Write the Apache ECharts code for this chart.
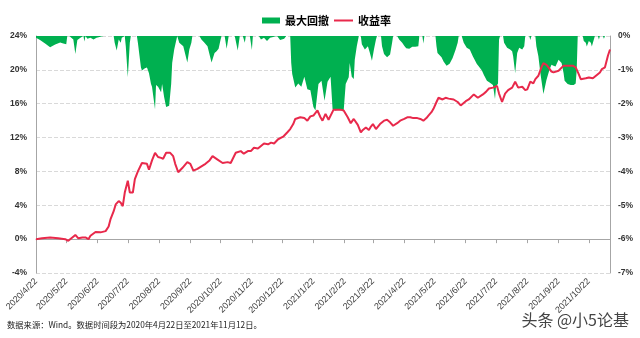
<!DOCTYPE html>
<html>
<head>
<meta charset="utf-8">
<script src="https://cdn.jsdelivr.net/npm/echarts@6/dist/echarts.min.js"></script>
<style>
html,body{margin:0;padding:0;background:#fff;}
#chart{width:640px;height:338px;}
</style>
</head>
<body>
<div id="chart"></div>
<script>
const tickLabels = ['2020/4/22','2020/5/22','2020/6/22','2020/7/22','2020/8/22','2020/9/22','2020/10/22','2020/11/22','2020/12/22','2021/1/22','2021/2/22','2021/3/22','2021/4/22','2021/5/22','2021/6/22','2021/7/22','2021/8/22','2021/9/22','2021/10/22'];
const startDate = '2020/4/22';
const endDate = '2021/11/12';

const returnDates = ['2020/4/22','2020/4/28','2020/5/6','2020/5/14','2020/5/21','2020/5/24','2020/5/28','2020/5/31','2020/6/3','2020/6/7','2020/6/10','2020/6/13','2020/6/15','2020/6/20','2020/6/25','2020/6/30','2020/7/3','2020/7/5','2020/7/8','2020/7/10','2020/7/13','2020/7/15','2020/7/17','2020/7/19','2020/7/22','2020/7/24','2020/7/27','2020/7/29','2020/8/1','2020/8/5','2020/8/10','2020/8/12','2020/8/15','2020/8/18','2020/8/21','2020/8/24','2020/8/26','2020/8/29','2020/9/2','2020/9/5','2020/9/7','2020/9/10','2020/9/14','2020/9/19','2020/9/22','2020/9/25','2020/9/29','2020/10/3','2020/10/7','2020/10/11','2020/10/14','2020/10/19','2020/10/24','2020/10/29','2020/11/1','2020/11/6','2020/11/11','2020/11/14','2020/11/18','2020/11/21','2020/11/24','2020/11/28','2020/12/1','2020/12/4','2020/12/8','2020/12/11','2020/12/14','2020/12/18','2020/12/23','2020/12/27','2020/12/30','2021/1/2','2021/1/4','2021/1/9','2021/1/13','2021/1/16','2021/1/19','2021/1/22','2021/1/26','2021/1/29','2021/1/31','2021/2/3','2021/2/6','2021/2/11','2021/2/15','2021/2/18','2021/2/21','2021/2/25','2021/2/28','2021/3/3','2021/3/7','2021/3/10','2021/3/12','2021/3/15','2021/3/18','2021/3/20','2021/3/22','2021/3/25','2021/3/29','2021/4/2','2021/4/5','2021/4/8','2021/4/11','2021/4/15','2021/4/18','2021/4/22','2021/4/25','2021/4/28','2021/5/1','2021/5/5','2021/5/8','2021/5/11','2021/5/14','2021/5/16','2021/5/19','2021/5/21','2021/5/24','2021/5/26','2021/5/30','2021/6/2','2021/6/5','2021/6/10','2021/6/14','2021/6/17','2021/6/22','2021/6/25','2021/6/30','2021/7/4','2021/7/9','2021/7/12','2021/7/15','2021/7/19','2021/7/23','2021/7/25','2021/7/28','2021/7/31','2021/8/3','2021/8/7','2021/8/10','2021/8/13','2021/8/17','2021/8/20','2021/8/22','2021/8/25','2021/8/28','2021/8/30','2021/9/2','2021/9/5','2021/9/7','2021/9/10','2021/9/12','2021/9/15','2021/9/17','2021/9/22','2021/9/27','2021/10/2','2021/10/6','2021/10/9','2021/10/12','2021/10/14','2021/10/19','2021/10/22','2021/10/26','2021/10/30','2021/11/2','2021/11/4','2021/11/7','2021/11/10','2021/11/12'];
const returnValues = [0.0,0.1,0.2,0.1,0.0,-0.2,0.2,0.5,0.1,0.2,0.2,0.0,0.4,0.85,0.8,0.95,1.5,2.4,3.3,4.1,4.5,4.3,3.9,5.5,6.9,5.5,5.5,7.1,8.0,9.0,8.9,8.2,9.3,10.2,9.7,9.6,9.5,10.2,10.2,9.8,8.9,7.9,8.4,9.1,8.9,8.1,8.3,8.6,8.9,9.3,9.8,9.4,9.0,9.1,9.0,10.2,10.4,10.1,10.4,10.4,10.8,10.7,11.0,11.3,11.2,11.4,11.3,11.8,12.1,12.6,13.0,13.6,14.2,14.4,14.3,14.0,14.5,14.6,15.2,14.4,14.0,14.8,14.1,15.3,15.3,15.3,15.2,14.4,13.7,14.2,13.5,12.6,12.9,13.2,12.9,13.3,13.6,13.0,13.6,14.0,14.1,13.8,13.4,13.7,14.0,14.2,14.4,14.4,14.3,14.3,14.2,14.0,14.3,14.6,15.0,15.4,16.2,16.7,16.5,16.7,16.6,16.5,16.2,15.8,16.3,16.5,17.1,16.7,17.1,17.4,17.8,17.9,18.1,17.2,16.2,17.2,17.6,17.9,18.6,17.9,18.0,17.6,17.7,18.6,18.4,18.9,19.3,20.3,20.8,20.6,20.3,19.8,19.7,19.9,20.5,20.5,20.5,20.3,19.5,18.9,19.0,19.1,19.0,19.4,19.7,20.1,20.3,21.7,22.4];

const drawdownDates = ['2020/4/22','2020/4/26','2020/5/1','2020/5/6','2020/5/11','2020/5/16','2020/5/19','2020/5/22','2020/5/23','2020/5/25','2020/5/26','2020/5/29','2020/5/31','2020/6/2','2020/6/5','2020/6/6','2020/6/8','2020/6/9','2020/6/10','2020/6/12','2020/6/15','2020/6/18','2020/6/21','2020/6/22','2020/6/28','2020/6/29','2020/6/30','2020/7/8','2020/7/9','2020/7/11','2020/7/13','2020/7/15','2020/7/16','2020/7/17','2020/7/19','2020/7/20','2020/7/22','2020/7/24','2020/7/25','2020/7/31','2020/8/1','2020/8/4','2020/8/5','2020/8/8','2020/8/10','2020/8/12','2020/8/14','2020/8/15','2020/8/18','2020/8/19','2020/8/21','2020/8/24','2020/8/25','2020/8/27','2020/8/29','2020/8/30','2020/9/1','2020/9/3','2020/9/4','2020/9/6','2020/9/9','2020/9/10','2020/9/11','2020/9/15','2020/9/19','2020/9/21','2020/9/23','2020/9/24','2020/10/1','2020/10/3','2020/10/6','2020/10/9','2020/10/13','2020/10/16','2020/10/18','2020/10/20','2020/10/22','2020/10/23','2020/10/26','2020/10/28','2020/10/30','2020/11/5','2020/11/8','2020/11/10','2020/11/13','2020/11/15','2020/11/16','2020/11/20','2020/11/22','2020/11/23','2020/11/29','2020/12/1','2020/12/4','2020/12/7','2020/12/10','2020/12/11','2020/12/17','2020/12/20','2020/12/24','2020/12/26','2020/12/30','2020/12/31','2021/1/1','2021/1/4','2021/1/7','2021/1/10','2021/1/13','2021/1/16','2021/1/19','2021/1/22','2021/1/24','2021/1/27','2021/1/30','2021/2/2','2021/2/5','2021/2/8','2021/2/10','2021/2/13','2021/2/15','2021/2/18','2021/2/21','2021/2/23','2021/2/26','2021/2/27','2021/3/1','2021/3/3','2021/3/4','2021/3/6','2021/3/8','2021/3/10','2021/3/11','2021/3/14','2021/3/17','2021/3/19','2021/3/21','2021/3/23','2021/3/25','2021/3/26','2021/3/30','2021/3/31','2021/4/2','2021/4/5','2021/4/8','2021/4/10','2021/4/11','2021/4/15','2021/4/17','2021/4/20','2021/4/22','2021/4/24','2021/4/27','2021/4/30','2021/5/3','2021/5/6','2021/5/7','2021/5/10','2021/5/11','2021/5/12','2021/5/23','2021/5/24','2021/5/25','2021/5/29','2021/5/31','2021/6/3','2021/6/6','2021/6/9','2021/6/12','2021/6/14','2021/6/15','2021/6/18','2021/6/20','2021/6/23','2021/6/26','2021/6/29','2021/7/3','2021/7/5','2021/7/8','2021/7/10','2021/7/13','2021/7/16','2021/7/19','2021/7/21','2021/7/22','2021/7/24','2021/7/25','2021/7/26','2021/7/29','2021/7/30','2021/8/2','2021/8/5','2021/8/7','2021/8/8','2021/8/10','2021/8/12','2021/8/14','2021/8/17','2021/8/19','2021/8/20','2021/8/24','2021/8/25','2021/8/26','2021/8/30','2021/8/31','2021/9/2','2021/9/4','2021/9/7','2021/9/10','2021/9/13','2021/9/15','2021/9/17','2021/9/19','2021/9/22','2021/9/25','2021/9/27','2021/9/28','2021/10/1','2021/10/4','2021/10/7','2021/10/9','2021/10/10','2021/10/11','2021/10/16','2021/10/17','2021/10/19','2021/10/20','2021/10/22','2021/10/24','2021/10/25','2021/10/27','2021/10/28','2021/10/31','2021/11/1','2021/11/2','2021/11/5','2021/11/6','2021/11/7','2021/11/12'];
const drawdownValues = [-0.05,-0.12,-0.22,-0.33,-0.25,-0.19,-0.22,-0.24,0,0,-0.05,-0.1,-0.53,-0.12,-0.05,0,0,-0.16,0,-0.08,-0.05,-0.1,-0.05,0,0,-0.04,0,0,-0.2,-0.43,-0.1,-0.2,-0.05,0,0,-0.3,-1.22,-0.2,0,0,-0.2,-0.92,-1.02,-0.95,-0.93,-1.1,-1.42,-1.5,-2.16,-1.45,-1.5,-1.66,-1.42,-1.8,-2.1,-2.05,-2.06,-1.42,-0.8,-0.4,0,0,-0.2,-0.3,-0.78,-0.4,-0.2,0,0,-0.1,-0.2,-0.3,-0.78,-0.5,-0.45,-0.38,-0.1,0,0,-0.38,0,0,-0.43,0,0,-0.2,0,0,-0.41,0,0,-0.1,-0.05,-0.15,-0.05,0,0,-0.12,-0.08,0,0,-0.8,-1.12,-1.52,-1.4,-1.5,-1.2,-1.57,-1.6,-2.1,-2.2,-1.42,-1.32,-1.91,-1.35,-1.2,-2.16,-2.2,-2.18,-2.19,-2.2,-1.42,-1.22,-0.8,-1.2,-1.27,-0.7,-0.3,0,0,-0.24,-0.4,-0.3,-0.5,-0.73,-0.4,-0.1,0,0,-0.3,-0.53,-0.63,-0.55,-0.2,0,0,-0.1,-0.2,-0.29,-0.36,-0.38,-0.32,-0.32,-0.3,0,0,-0.22,0,0,-0.3,-0.5,-0.63,-0.75,-0.88,-0.82,-0.65,-0.4,-0.2,0,0,-0.2,-0.35,-0.4,-0.6,-0.83,-0.9,-1.02,-1.15,-1.32,-1.38,-1.45,-1.86,-1.5,-1.4,-0.1,0,0,-0.2,-0.35,-0.4,-0.45,-0.6,-1.1,-0.5,-0.35,-0.4,-0.3,0,0,-0.12,0,0,-0.3,-0.6,-1.1,-1.71,-1.3,-1.0,-0.85,-0.88,-0.9,-0.7,-0.8,-1.1,-1.32,-1.42,-1.45,-1.45,-1.4,-1.0,0,0,-0.15,-0.2,-0.31,-0.15,-0.2,-0.31,-0.1,0,0,-0.1,0,0,-0.08,0,0];

function ts(s) {
  const p = s.split('/').map(Number);
  return new Date(p[0], p[1] - 1, p[2]).getTime();
}
function fmtDate(v) {
  const d = new Date(v);
  return d.getFullYear() + '/' + (d.getMonth() + 1) + '/' + d.getDate();
}

const returnData = returnDates.map((d, i) => [ts(d), returnValues[i]]);
const drawdownData = drawdownDates.map((d, i) => [ts(d), drawdownValues[i]]);
const tickValues = tickLabels.map(ts);

const GREEN = '#00B050';
const RED = '#E8294B';
const FONT = 'Arial, "Liberation Sans", "Noto Sans CJK SC", sans-serif';
const legendText = {fontSize: 11, fontWeight: 'bold', color: '#000', fontFamily: '"Noto Sans CJK SC", sans-serif'};

const chart = echarts.init(document.getElementById('chart'), null, {renderer: 'canvas'});
chart.setOption({
  animation: false,
  backgroundColor: '#fff',
  textStyle: {fontFamily: FONT},
  legend: [
    {
      top: 10, left: 257, itemWidth: 18, itemHeight: 6, itemGap: 10,
      textStyle: legendText,
      data: [{name: '最大回撤', icon: 'rect'}]
    },
    {
      top: 10, left: 329, itemWidth: 19, itemHeight: 2, itemGap: 10,
      textStyle: legendText,
      data: [{name: '收益率', icon: 'rect'}]
    }
  ],
  grid: {left: 36, right: 30, top: 36, bottom: 65, containLabel: false},
  xAxis: [
    {
      type: 'value', min: ts(startDate), max: ts(endDate), position: 'bottom',
      axisLine: {show: false, onZero: false},
      axisTick: {show: false},
      splitLine: {show: false},
      axisLabel: {
        customValues: tickValues, rotate: 45, fontSize: 9, color: '#404040', margin: 7,
        formatter: v => fmtDate(v), hideOverlap: false
      }
    },
    {
      type: 'value', min: ts(startDate), max: ts(endDate), position: 'bottom',
      axisLine: {show: true, onZero: true, onZeroAxisIndex: 0, lineStyle: {color: '#a6a6a6', width: 1}},
      axisTick: {show: true, customValues: tickValues, length: 4, lineStyle: {color: '#a6a6a6'}},
      axisLabel: {show: false},
      splitLine: {show: false}
    }
  ],
  yAxis: [
    {
      type: 'value', min: -4, max: 24, interval: 4, position: 'left',
      axisLine: {show: true, lineStyle: {color: '#a6a6a6'}},
      axisTick: {show: false},
      axisLabel: {formatter: v => v + '%', fontSize: 8.5, color: '#333', margin: 9, fontWeight: 'bold'},
      splitLine: {show: true, lineStyle: {color: '#d9d9d9', type: 'dashed', width: 1}}
    },
    {
      type: 'value', min: -7, max: 0, interval: 1, position: 'right',
      axisLine: {show: true, lineStyle: {color: '#a6a6a6'}},
      axisTick: {show: false},
      axisLabel: {formatter: v => v + '%', fontSize: 8.5, color: '#333', margin: 8, fontWeight: 'bold'},
      splitLine: {show: false}
    }
  ],
  series: [
    {
      name: '最大回撤', type: 'line', xAxisIndex: 0, yAxisIndex: 1,
      data: drawdownData, symbol: 'none', color: GREEN,
      lineStyle: {width: 0},
      areaStyle: {color: GREEN, opacity: 1, origin: 'end'},
      z: 1
    },
    {
      name: '收益率', type: 'line', xAxisIndex: 0, yAxisIndex: 0,
      data: returnData, symbol: 'none', color: RED,
      lineStyle: {width: 2, color: RED},
      z: 3
    }
  ],
  graphic: [
    {
      type: 'text', left: 7, top: 321,
      style: {text: '数据来源：Wind。数据时间段为2020年4月22日至2021年11月12日。', fill: '#222', font: '8.3px "Noto Sans CJK SC", sans-serif'}
    },
    {
      type: 'text', right: 10, top: 311,
      style: {text: '头条 @小5论基', fill: '#444', stroke: '#fff', lineWidth: 2, font: '16px "Noto Sans CJK SC", sans-serif'}
    }
  ]
});
</script>
</body>
</html>
